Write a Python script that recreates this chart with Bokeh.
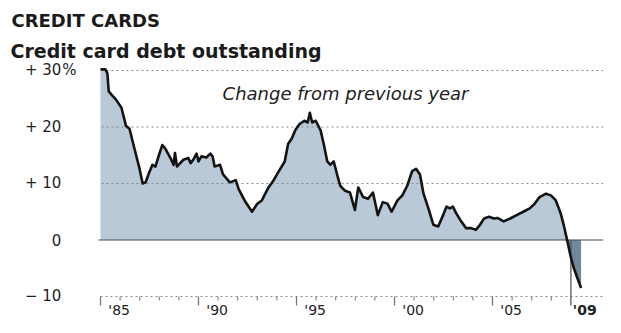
import numpy as np
from bokeh.plotting import figure
from bokeh.models import Range1d, Label, ColumnDataSource
from bokeh.core.properties import value
from bokeh.embed import file_html
from bokeh.resources import INLINE

# ---- data (year-over-year % change) ----
years = [1985.00, 1985.25, 1985.35, 1985.42, 1985.57, 1985.80, 1986.07, 1986.30, 1986.48, 1986.73,
         1986.98, 1987.15, 1987.30, 1987.48, 1987.65, 1987.80, 1987.98, 1988.15, 1988.30, 1988.57,
         1988.73, 1988.80, 1988.90, 1989.23, 1989.48, 1989.60, 1989.73, 1989.90, 1990.00, 1990.15,
         1990.40, 1990.60, 1990.72, 1990.82, 1991.10, 1991.25, 1991.60, 1991.90, 1992.05, 1992.35,
         1992.73, 1993.00, 1993.23, 1993.57, 1993.82, 1994.07, 1994.40, 1994.57, 1994.75, 1994.95,
         1995.15, 1995.40, 1995.57, 1995.68, 1995.80, 1995.98, 1996.23, 1996.40, 1996.57, 1996.73,
         1996.90, 1997.07, 1997.23, 1997.48, 1997.73, 1997.98, 1998.15, 1998.40, 1998.65, 1998.90,
         1999.15, 1999.40, 1999.65, 1999.85, 2000.15, 2000.40, 2000.65, 2000.90, 2001.10, 2001.30,
         2001.48, 2001.73, 2001.98, 2002.23, 2002.48, 2002.65, 2002.82, 2002.98, 2003.15, 2003.40,
         2003.65, 2003.90, 2004.15, 2004.30, 2004.57, 2004.82, 2005.07, 2005.25, 2005.57, 2005.90,
         2006.23, 2006.57, 2006.90, 2007.15, 2007.40, 2007.73, 2007.98, 2008.23, 2008.48, 2008.65,
         2008.82, 2008.98, 2009.15, 2009.40, 2009.52]
change = [30.2, 30.2, 29.5, 26.3, 25.7, 24.8, 23.4, 20.2, 19.7, 16.2,
          12.8, 10.0, 10.2, 11.9, 13.3, 13.0, 15.0, 16.8, 16.2, 14.5,
          13.3, 15.4, 13.0, 14.2, 14.5, 13.6, 14.2, 15.3, 13.9, 14.8,
          14.6, 15.3, 14.8, 13.0, 13.3, 11.6, 10.2, 10.6, 9.0, 7.0,
          5.0, 6.4, 7.0, 9.3, 10.5, 12.0, 13.9, 17.0, 17.9, 19.5,
          20.5, 21.1, 20.8, 22.5, 20.8, 21.1, 19.4, 16.8, 13.9, 13.3,
          13.9, 11.6, 9.6, 8.7, 8.4, 5.3, 9.3, 7.6, 7.3, 8.4,
          4.4, 6.7, 6.4, 5.0, 7.0, 7.9, 9.6, 12.2, 12.6, 11.6,
          8.2, 5.6, 2.7, 2.4, 4.4, 5.9, 5.6, 5.9, 4.7, 3.3,
          2.1, 2.1, 1.8, 2.4, 3.8, 4.1, 3.8, 3.9, 3.3, 3.8,
          4.4, 5.0, 5.6, 6.4, 7.6, 8.2, 7.9, 7.0, 4.7, 2.4,
          -0.2, -2.8, -5.0, -7.4, -8.5]

y_ticks = [30, 20, 10, 0, -10]
y_tick_labels = ["+ 30", "+ 20", "+ 10", "0", "\u2212 10"]
major_years = [1985, 1990, 1995, 2000, 2005]
major_labels = ["'85", "'90", "'95", "'00", "'05"]
minor_years = [y for y in range(1986, 2009) if y % 5 != 0]
last_year = 2009
last_label = "'09"

FONT = "DejaVu Sans"
INK = "#222222"
W, H = 605, 317

p = figure(width=W, height=H,
           x_range=Range1d(1979.898, 2010.765), y_range=Range1d(-13.72, 42.39),
           output_backend="svg", toolbar_location=None,
           x_axis_type=None, y_axis_type=None, min_border=0,
           outline_line_color=None, background_fill_color="white",
           border_fill_color="white")
p.grid.visible = False

x = np.array(years)
v = np.array(change)
src = ColumnDataSource(dict(x=x, v=v, pos=np.maximum(v, 0), neg=np.minimum(v, 0), zero=np.zeros_like(v)))

# fills
p.varea(x="x", y1="zero", y2="pos", source=src, fill_color="#b9c9d7")
p.varea(x="x", y1="zero", y2="neg", source=src, fill_color="#6f889e")

# gridlines (dotted)
x0, x1 = 1985.05, 2010.65
for t in [30, 20, 10]:
    p.line([x0, x1], [t, t], line_color="#8a8a8a", line_width=1.2, line_dash="2 3")
# bottom axis line (dotted, at -10)
p.line([1985.0, x1], [-10, -10], line_color="#8a8a8a", line_width=1.2, line_dash="2 3")
# zero line
p.line([1984.9, x1], [0, 0], line_color="#4a4a4a", line_width=1.2)

# ticks
p.segment(x0=major_years, y0=[-10] * len(major_years), x1=major_years, y1=[-11.6] * len(major_years),
          line_color="#777777", line_width=1.3)
p.segment(x0=minor_years, y0=[-10] * len(minor_years), x1=minor_years, y1=[-10.7] * len(minor_years),
          line_color="#888888", line_width=1.2)
p.segment(x0=[last_year], y0=[0], x1=[last_year], y1=[-11.6], line_color="#555555", line_width=1.3)

# data line
p.line("x", "v", source=src, line_color="#141414", line_width=2.6, line_join="round")

# x labels
p.text(x=[yr + 0.4 for yr in major_years], y=[-12.48] * len(major_years), text=major_labels,
       text_font=value(FONT), text_font_size="14px", text_color=INK,
       text_align="left", text_baseline="alphabetic")
p.text(x=[last_year + 0.1], y=[-12.48], text=[last_label],
       text_font=value(FONT), text_font_size="14px", text_font_style="bold", text_color=INK,
       text_align="left", text_baseline="alphabetic")

# y labels
p.text(x=[1983.0] * len(y_ticks), y=y_ticks, text=y_tick_labels,
       text_font=value(FONT), text_font_size="15px", text_color=INK,
       text_align="right", text_baseline="middle")
p.text(x=[1983.05], y=[30], text=["%"],
       text_font=value(FONT), text_font_size="15px", text_color=INK,
       text_align="left", text_baseline="middle")

# annotation
p.add_layout(Label(x=1997.5, y=25.93, text="Change from previous year",
                   text_font=FONT, text_font_size="18px", text_font_style="italic",
                   text_color=INK, text_align="center", text_baseline="alphabetic"))

# titles
p.add_layout(Label(x=11, y=H - 20, x_units="screen", y_units="screen", text="CREDIT CARDS",
                   text_font=FONT, text_font_size="18px", text_font_style="bold",
                   text_color="#1a1a1a", text_baseline="alphabetic"))
p.add_layout(Label(x=10, y=H - 50, x_units="screen", y_units="screen", text="Credit card debt outstanding",
                   text_font=FONT, text_font_size="19px", text_font_style="bold",
                   text_color="#1a1a1a", text_baseline="alphabetic"))

open("out.html", "w").write(file_html(p, INLINE))
